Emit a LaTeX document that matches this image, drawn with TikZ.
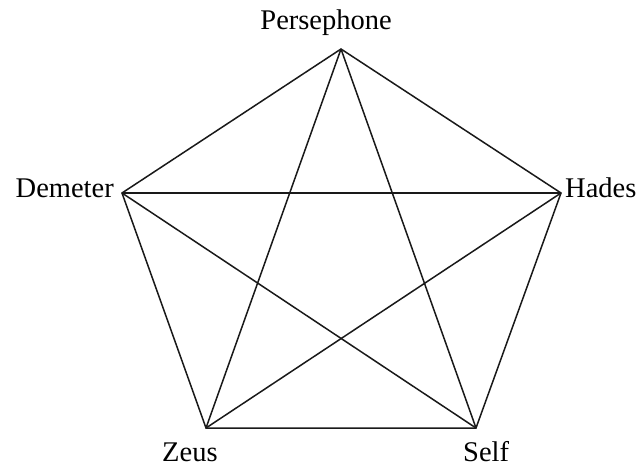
\documentclass[tikz,border=0pt]{standalone}
\usepackage{fontspec}
\setmainfont{Liberation Serif}
\begin{document}
\begin{tikzpicture}[x=1pt,y=-1pt,
  edge/.style={line width=1.5pt, draw=black!90},
  lbl/.style={inner sep=0pt, font=\fontsize{28.5}{30}\selectfont}]
\useasboundingbox (0,0) rectangle (641,467);
\coordinate (P) at (341,49);
\coordinate (D) at (122,193);
\coordinate (H) at (561,193);
\coordinate (Z) at (206,428);
\coordinate (S) at (476,428);
\draw[edge] (P) -- (D) -- (Z) -- (S) -- (H) -- cycle;
\draw[edge] (P) -- (Z);
\draw[edge] (P) -- (S);
\draw[edge] (D) -- (H);
\draw[edge] (D) -- (S);
\draw[edge] (Z) -- (H);
\node[lbl, anchor=base east] (tP) at (392,29) {Persephone};
\node[lbl, anchor=base east] (tD) at (114,197) {Demeter};
\node[lbl, anchor=base west] (tH) at (565,197) {Hades};
\node[lbl, anchor=base west] (tZ) at (162,461) {Zeus};
\node[lbl, anchor=base west] (tS) at (463,461) {Self};
\end{tikzpicture}
\end{document}
